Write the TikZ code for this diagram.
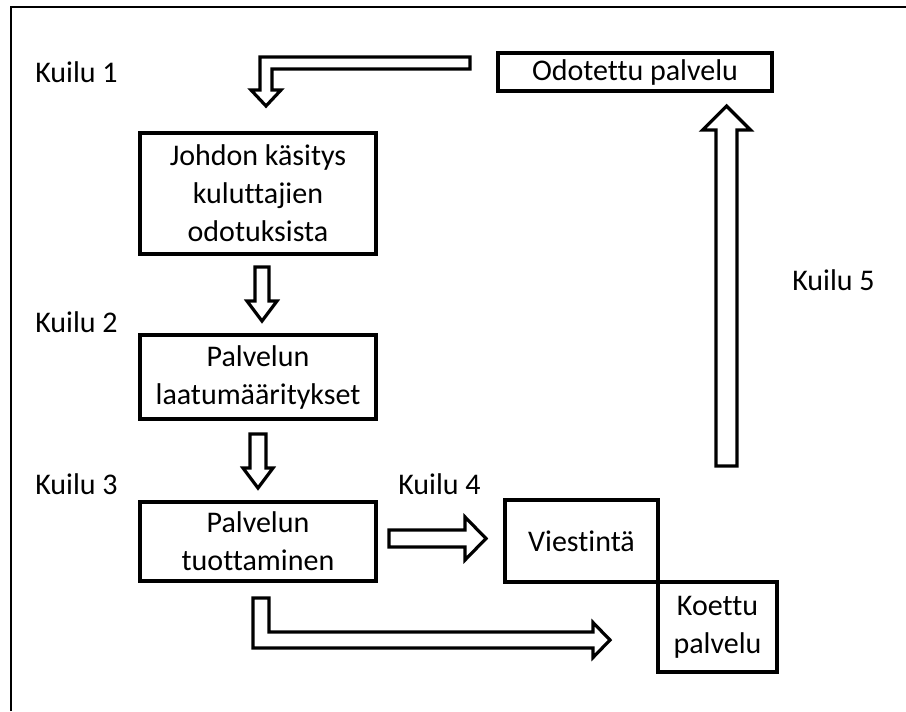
\documentclass[tikz,border=0pt]{standalone}
\usepackage{fontspec}
\setmainfont{Carlito}[Ligatures={NoCommon},RawFeature={-liga}]
\usetikzlibrary{calc}

\begin{document}
\begin{tikzpicture}[x=.75pt,y=-.75pt,
    every node/.style={font=\fontsize{22.5}{28.5}\selectfont},
    box/.style={draw,line width=3pt,align=center,inner sep=0pt},
    gaplabel/.style={anchor=west,inner sep=0pt},
    hollow/.style={draw,fill=white,line width=2.4pt,line join=miter}]
  \useasboundingbox (0,0) rectangle (906,711);
  \draw[line width=2pt] (11,711) -- (11,7) -- (906,7);
  % boxes
  \node[box,minimum width=205.5pt,minimum height=28.5pt] (odotettu) at (635,72) {Odotettu palvelu};
  \node[box,minimum width=177pt,minimum height=90.75pt] (johdon) at (258,193.5) {Johdon käsitys\\kuluttajien\\odotuksista};
  \node[box,minimum width=177pt,minimum height=63pt] (laatu) at (258,377) {Palvelun\\laatumääritykset};
  \node[box,minimum width=177pt,minimum height=59.25pt] (tuotto) at (258,541.5) {Palvelun\\tuottaminen};
  \node[box,minimum width=114.75pt,minimum height=61.5pt] (viestinta) at (581.5,541) {Viestintä};
  \node[box,minimum width=89.25pt,minimum height=67.5pt] (koettu) at (717.5,627) {Koettu\\palvelu};
  % gap labels
  \node[gaplabel] (kuilu1) at (35,72) {Kuilu 1};
  \node[gaplabel] (kuilu2) at (35,322) {Kuilu 2};
  \node[gaplabel] (kuilu3) at (35,484) {Kuilu 3};
  \node[gaplabel] (kuilu4) at (398,484) {Kuilu 4};
  \node[gaplabel] (kuilu5) at (792,280) {Kuilu 5};
  % hollow arrows
  \coordinate (a1s) at ($(odotettu.west)+(-26,-9)$);
  \coordinate (a1t) at ($(johdon.north)+(8,-25)$);
  \draw[hollow] ($(a1s)+(0,-6)$) -- ($(a1t|-a1s)+(-6,-6)$) -- ($(a1t)+(-6,-16)$) -- ($(a1t)+(-15,-16)$)
    -- (a1t) -- ($(a1t)+(15,-16)$) -- ($(a1t)+(6,-16)$) -- ($(a1t|-a1s)+(6,6)$) -- ($(a1s)+(0,6)$) -- cycle;
  \coordinate (a2s) at ($(johdon.south)+(4,11)$);
  \coordinate (a2t) at ($(laatu.north)+(4,-12)$);
  \draw[hollow] ($(a2s)+(-7,0)$) -- ($(a2t)+(-7,-20)$) -- ($(a2t)+(-15,-20)$) -- (a2t)
    -- ($(a2t)+(15,-20)$) -- ($(a2t)+(7,-20)$) -- ($(a2s)+(7,0)$) -- cycle;
  \coordinate (a3s) at ($(laatu.south)+(0,13)$);
  \coordinate (a3t) at ($(tuotto.north)+(0,-12)$);
  \draw[hollow] ($(a3s)+(-8,0)$) -- ($(a3t)+(-8,-20)$) -- ($(a3t)+(-15,-20)$) -- (a3t)
    -- ($(a3t)+(15,-20)$) -- ($(a3t)+(8,-20)$) -- ($(a3s)+(8,0)$) -- cycle;
  \coordinate (a4s) at ($(tuotto.east)+(11,-3)$);
  \coordinate (a4t) at ($(viestinta.west)+(-17,-2.5)$);
  \draw[hollow] ($(a4s)+(0,-8.5)$) -- ($(a4t)+(-21,-8.5)$) -- ($(a4t)+(-21,-21.5)$) -- (a4t)
    -- ($(a4t)+(-21,21.5)$) -- ($(a4t)+(-21,8.5)$) -- ($(a4s)+(0,8.5)$) -- cycle;
  \coordinate (a5s) at ($(tuotto.south)+(3,15)$);
  \coordinate (a5t) at ($(koettu.west)+(-46,13)$);
  \draw[hollow] ($(a5s)+(-8,0)$) -- ($(a5s|-a5t)+(-8,8)$) -- ($(a5t)+(-17,8)$) -- ($(a5t)+(-17,17.5)$)
    -- (a5t) -- ($(a5t)+(-17,-17.5)$) -- ($(a5t)+(-17,-8)$) -- ($(a5s|-a5t)+(8,-8)$) -- ($(a5s)+(8,0)$) -- cycle;
  \coordinate (a6t) at ($(odotettu.south)+(91.5,13)$);
  \coordinate (a6s) at ($(a6t|-viestinta.north)+(0,-32)$);
  \draw[hollow] ($(a6s)+(-10.5,0)$) -- ($(a6t)+(-10.5,24)$) -- ($(a6t)+(-24,24)$) -- (a6t)
    -- ($(a6t)+(24,24)$) -- ($(a6t)+(10.5,24)$) -- ($(a6s)+(10.5,0)$) -- cycle;
\end{tikzpicture}
\end{document}
